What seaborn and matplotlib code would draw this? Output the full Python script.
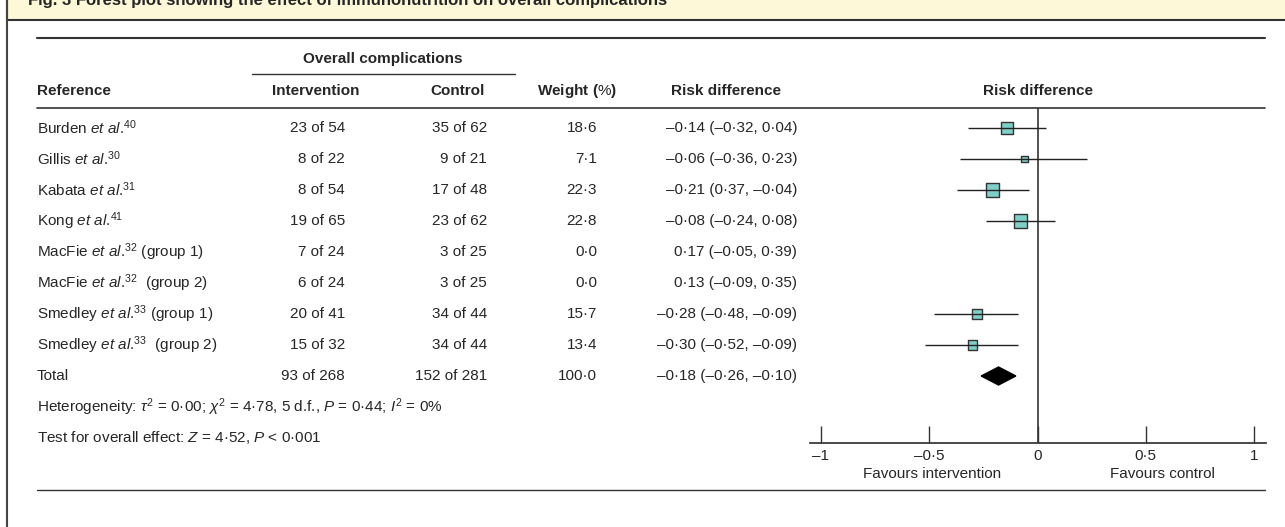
import numpy as np
import pandas as pd
import matplotlib
matplotlib.use("Agg")
import matplotlib.pyplot as plt
import seaborn as sns

sns.set_theme(style="white")
plt.rcParams["font.family"] = ["Liberation Sans", "DejaVu Sans"]
plt.rcParams["mathtext.fontset"] = "custom"
plt.rcParams["mathtext.rm"] = "Liberation Sans"
plt.rcParams["mathtext.it"] = "Liberation Sans:italic"
plt.rcParams["mathtext.bf"] = "Liberation Sans:bold"

# data
studies = [r"Burden $\it{et\ al}$.$^{40}$", r"Gillis $\it{et\ al}$.$^{30}$",
           r"Kabata $\it{et\ al}$.$^{31}$", r"Kong $\it{et\ al}$.$^{41}$",
           r"MacFie $\it{et\ al}$.$^{32}$ (group 1)", r"MacFie $\it{et\ al}$.$^{32}$  (group 2)",
           r"Smedley $\it{et\ al}$.$^{33}$ (group 1)", r"Smedley $\it{et\ al}$.$^{33}$  (group 2)"]
intervention = ["23 of 54", "8 of 22", "8 of 54", "19 of 65", "7 of 24", "6 of 24", "20 of 41", "15 of 32"]
control = ["35 of 62", "9 of 21", "17 of 48", "23 of 62", "3 of 25", "3 of 25", "34 of 44", "34 of 44"]
weight = [18.6, 7.1, 22.3, 22.8, 0.0, 0.0, 15.7, 13.4]
rd = [-0.14, -0.06, -0.21, -0.08, 0.17, 0.13, -0.28, -0.30]
lo = [-0.32, -0.36, -0.37, -0.24, -0.05, -0.09, -0.48, -0.52]
hi = [0.04, 0.23, -0.04, 0.08, 0.39, 0.35, -0.09, -0.09]
rd_text = ["–0·14 (–0·32, 0·04)", "–0·06 (–0·36, 0·23)", "–0·21 (0·37, –0·04)",
           "–0·08 (–0·24, 0·08)", "0·17 (–0·05, 0·39)", "0·13 (–0·09, 0·35)",
           "–0·28 (–0·48, –0·09)", "–0·30 (–0·52, –0·09)"]
total = dict(inter="93 of 268", ctrl="152 of 281", w="100·0", rd=-0.18, lo=-0.26, hi=-0.10,
             txt="–0·18 (–0·26, –0·10)")
ticks = [-1, -0.5, 0, 0.5, 1]
tick_labels = ["–1", "–0·5", "0", "0·5", "1"]

W, H = 1285, 527
fig = plt.figure(figsize=(W / 100, H / 100), dpi=100)
bg = fig.add_axes([0, 0, 1, 1])
bg.set_xlim(0, W)
bg.set_ylim(H, 0)
bg.axis("off")

# banner and frame
bg.add_patch(plt.Rectangle((7, -5), W, 25, facecolor="#fdf8d8", edgecolor="#333333", lw=1.5))
bg.text(28, 8, "Fig. 3 Forest plot showing the effect of immunonutrition on overall complications",
        fontsize=12, fontweight="bold", va="bottom", ha="left", clip_on=True)
bg.plot([7, 7], [0, H], color="#444444", lw=1.5)

fs = 11
row_y = [128 + 31 * i for i in range(8)]
total_y = 376

# rules
for y, lw in [(38, 1.5), (108, 1.2)]:
    bg.plot([37, 1265], [y, y], color="#333333", lw=lw)
bg.plot([37, 1265], [490, 490], color="#333333", lw=1.0)
bg.plot([252, 515], [74, 74], color="#333333", lw=1.0)

bg.text(383, 59, "Overall complications", fontsize=fs, fontweight="bold", ha="center", va="center")
for x, s, ha in [(37, "Reference", "left"), (316, "Intervention", "center"), (458, "Control", "center"),
                 (577, r"Weight ($\%$)", "center"), (726, "Risk difference", "center"),
                 (1038, "Risk difference", "center")]:
    bg.text(x, 91, s, fontsize=fs, fontweight="bold", ha=ha, va="center")

for y, s, a, b, w, t in zip(row_y, studies, intervention, control, weight, rd_text):
    bg.text(37, y, s, fontsize=fs, ha="left", va="center")
    bg.text(345, y, a, fontsize=fs, ha="right", va="center")
    bg.text(487, y, b, fontsize=fs, ha="right", va="center")
    bg.text(597, y, f"{w:.1f}".replace(".", "·"), fontsize=fs, ha="right", va="center")
    bg.text(797, y, t, fontsize=fs, ha="right", va="center")

bg.text(37, total_y, "Total", fontsize=fs, ha="left", va="center")
bg.text(345, total_y, total["inter"], fontsize=fs, ha="right", va="center")
bg.text(487, total_y, total["ctrl"], fontsize=fs, ha="right", va="center")
bg.text(597, total_y, total["w"], fontsize=fs, ha="right", va="center")
bg.text(797, total_y, total["txt"], fontsize=fs, ha="right", va="center")
bg.text(37, 407, r"Heterogeneity: $\tau^2$ = 0·00; $\chi^2$ = 4·78, 5 d.f., $\it{P}$ = 0·44; $\it{I}^2$ = 0$\%$",
        fontsize=fs, ha="left", va="center")
bg.text(37, 438, r"Test for overall effect: $\it{Z}$ = 4·52, $\it{P}$ < 0·001", fontsize=fs, ha="left", va="center")

# forest axes: -1 at x=821, 1 at x=1254; rows from y=108 to axis at y=443
x0, x1 = 810, 1266
ppu = (1254 - 821) / 2
ax = fig.add_axes([x0 / W, 1 - 443 / H, (x1 - x0) / W, (443 - 108) / H])
ax.set_xlim(-1 - (821 - x0) / ppu, 1 + (x1 - 1254) / ppu)
ax.set_ylim(443, 108)
ax.patch.set_alpha(0)
for sp in ["top", "right", "left"]:
    ax.spines[sp].set_visible(False)
ax.spines["bottom"].set_color("#333333")
ax.set_yticks([])
ax.set_xticks(ticks)
ax.set_xticklabels(tick_labels, fontsize=fs)
ax.tick_params(axis="x", direction="in", length=12, width=1, color="#333333", pad=4,
               bottom=True)
ax.axvline(0, color="#333333", lw=1.2)

df = pd.DataFrame(dict(y=row_y, rd=rd, lo=lo, hi=hi, w=weight))
df = df[df.w > 0]
ax.hlines(df.y, df.lo, df.hi, color="#222222", lw=1.0)
sns.scatterplot(data=df, x="rd", y="y", size="w", sizes=(20, 90), marker="s",
                color="#7fcfc9", edgecolor="#333333", linewidth=1.0, legend=False, ax=ax)
ax.set_xlabel("")
ax.set_ylabel("")
ax.fill([total["lo"], total["rd"], total["hi"], total["rd"]],
        [total_y, total_y - 9, total_y, total_y + 9], color="black")

bg.text(932, 474, "Favours intervention", fontsize=fs, ha="center", va="center")
bg.text(1162, 474, "Favours control", fontsize=fs, ha="center", va="center")

fig.savefig("out.png", dpi=100)
